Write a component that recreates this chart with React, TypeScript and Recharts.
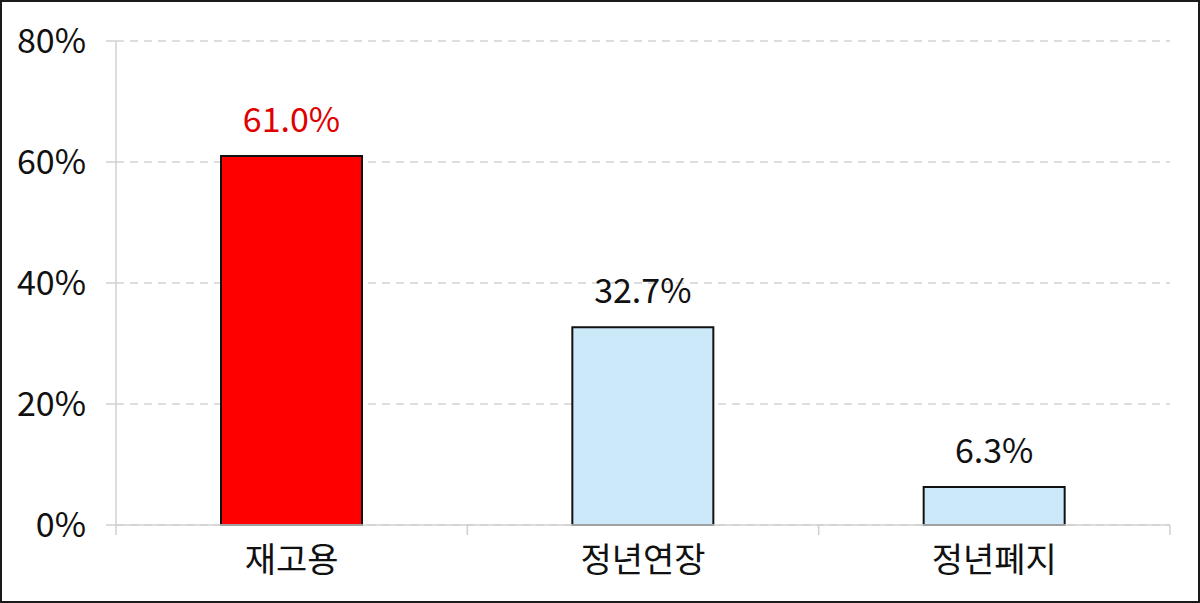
import React from "react";
import { BarChart, Bar, XAxis, YAxis, CartesianGrid, LabelList, Cell } from "recharts";

const categories = ["재고용", "정년연장", "정년폐지"];
const shares = [61.0, 32.7, 6.3];
const yTicks = [0, 20, 40, 60, 80];
const highlight = "재고용";

const data = categories.map((name, i) => ({ name, value: shares[i] }));

const FONT = "'Noto Sans CJK KR', 'Noto Sans', sans-serif";
const W = 1196;
const H = 599;
const MARGIN = { top: 39, right: 28, left: 0, bottom: 10 };
const Y_WIDTH = 114;
const BAND = (W - MARGIN.left - MARGIN.right - Y_WIDTH) / categories.length;
const X_TICK_MARGIN = 17;

function CategoryTick(props: any) {
  const { x, y, payload, index } = props;
  const left = x - BAND / 2;
  const right = x + BAND / 2;
  // axis line sits at y - default tick size (6) - tickMargin
  const axisY = y - 6 - X_TICK_MARGIN;
  return (
    <g>
      <line x1={left} x2={left} y1={axisY} y2={axisY + 10} stroke="#d0d0d0" strokeWidth={1.5} />
      {index === categories.length - 1 && (
        <line x1={right} x2={right} y1={axisY} y2={axisY + 10} stroke="#d0d0d0" strokeWidth={1.5} />
      )}
      <text x={x} y={y} dy="0.71em" textAnchor="middle" fill="#111" fontSize={34} fontFamily={FONT}>
        {payload.value}
      </text>
    </g>
  );
}

function ValueLabel(props: any) {
  const { x, y, width, value, index } = props;
  const color = categories[index] === highlight ? "#e00000" : "#111";
  return (
    <text x={x + width / 2} y={y - 24} textAnchor="middle" fill={color} fontSize={34} fontFamily={FONT}>
      {Number(value).toFixed(1)}%
    </text>
  );
}

export default function App() {
  return (
    <div
      style={{
        position: "absolute",
        left: 0,
        top: 0,
        width: 1200,
        height: 603,
        border: "2px solid #1a1a1a",
        boxSizing: "border-box",
        background: "#fff",
      }}
    >
      <BarChart width={W} height={H} data={data} margin={MARGIN}>
        <CartesianGrid vertical={false} stroke="#d4d4d4" strokeDasharray="8 6" strokeWidth={1.5} />
        <XAxis
          dataKey="name"
          height={66}
          axisLine={{ stroke: "#d0d0d0", strokeWidth: 1.5 }}
          tickLine={false}
          tickMargin={X_TICK_MARGIN}
          tick={<CategoryTick />}
          interval={0}
        />
        <YAxis
          width={Y_WIDTH}
          domain={[0, 80]}
          ticks={yTicks}
          tickFormatter={(v) => `${v}%`}
          axisLine={{ stroke: "#d0d0d0", strokeWidth: 1.5 }}
          tickLine={{ stroke: "#d0d0d0", strokeWidth: 1.5 }}
          tickSize={10}
          tickMargin={20}
          tick={{ fill: "#111", fontSize: 34, fontFamily: FONT }}
        />
        <Bar dataKey="value" barSize={141} stroke="#111" strokeWidth={2} isAnimationActive={false}>
          {data.map((d) => (
            <Cell key={d.name} fill={d.name === highlight ? "#ff0000" : "#cce9f9"} />
          ))}
          <LabelList dataKey="value" content={<ValueLabel />} />
        </Bar>
      </BarChart>
    </div>
  );
}
